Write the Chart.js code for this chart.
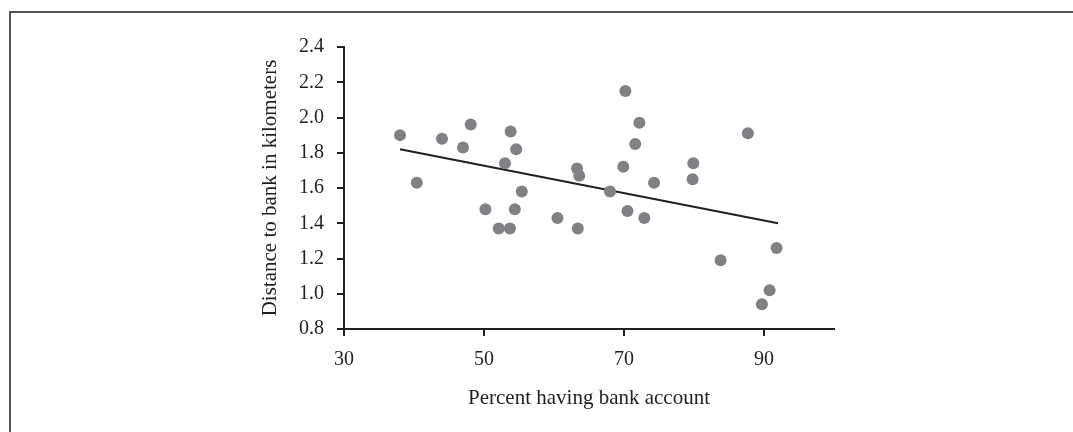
<!DOCTYPE html>
<html>
<head>
<meta charset="utf-8">
<script src="https://cdn.jsdelivr.net/npm/chart.js@4"></script>
<style>
  html, body { margin: 0; padding: 0; background: #fff; }
  #wrap { position: relative; width: 1073px; height: 432px; overflow: hidden; }
  #frame { position: absolute; left: 9px; top: 11px; width: 1100px; height: 460px;
           border-left: 2px solid #555; border-top: 2px solid #555; }
  canvas { position: absolute; left: 0; top: 0; }
</style>
</head>
<body>
<div id="wrap">
  <div id="frame"></div>
  <canvas id="chart" width="1073" height="432"></canvas>
</div>
<script>
// percent having bank account vs distance to bank (km)
var pctAccount = [38.0, 40.4, 44.0, 47.0, 48.1, 50.2, 52.1, 53.0, 53.7, 53.8, 54.4, 54.6, 55.4,
  60.5, 63.3, 63.4, 63.6, 68.0, 69.9, 70.2, 70.5, 71.6, 72.2, 72.9, 74.3, 79.9, 79.8, 83.8,
  87.7, 89.7, 90.8, 91.8];
var distanceKm = [1.90, 1.63, 1.88, 1.83, 1.96, 1.48, 1.37, 1.74, 1.37, 1.92, 1.48, 1.82, 1.58,
  1.43, 1.71, 1.37, 1.67, 1.58, 1.72, 2.15, 1.47, 1.85, 1.97, 1.43, 1.63, 1.74, 1.65, 1.19,
  1.91, 0.94, 1.02, 1.26];

// fitted trend line end points
var trendX = [38, 92];
var trendY = [1.82, 1.40];

var xTicks = [30, 50, 70, 90];

var serif = "'Liberation Serif', 'DejaVu Serif', serif";
var ink = "#231f20";

var points = pctAccount.map(function (x, i) {
  return { x: x, y: distanceKm[i] };
});
var trend = trendX.map(function (x, i) {
  return { x: x, y: trendY[i] };
});

var ctx = document.getElementById("chart");
var myChart = new Chart(ctx, {
  type: "scatter",
  data: {
    datasets: [
      {
        label: "Countries",
        data: points,
        backgroundColor: "#808185",
        borderWidth: 0,
        pointRadius: 6,
        pointHoverRadius: 6,
      },
      {
        type: "line",
        label: "Trend",
        data: trend,
        borderColor: ink,
        borderWidth: 2,
        pointRadius: 0,
        fill: false,
      },
    ],
  },
  options: {
    responsive: false,
    animation: false,
    layout: {
      padding: { left: 250, right: 239, top: 47, bottom: 18 },
    },
    plugins: {
      legend: { display: false },
      tooltip: { enabled: false },
    },
    scales: {
      x: {
        type: "linear",
        min: 30,
        max: 100,
        afterBuildTicks: function (axis) {
          axis.ticks = xTicks.map(function (v) {
            return { value: v };
          });
        },
        afterFit: function (axis) {
          axis.height = 85;
        },
        border: { display: true, color: ink, width: 2 },
        grid: { drawOnChartArea: false, drawTicks: true, tickLength: 7, color: ink, lineWidth: 2 },
        ticks: {
          color: ink,
          padding: 12,
          maxRotation: 0,
          font: { family: serif, size: 20 },
        },
        title: {
          display: true,
          text: "Percent having bank account",
          color: ink,
          padding: { top: 0, bottom: 3 },
          font: { family: serif, size: 21 },
        },
      },
      y: {
        min: 0.8,
        max: 2.4,
        afterFit: function (axis) {
          axis.width = 94;
        },
        border: { display: true, color: ink, width: 2 },
        grid: { drawOnChartArea: false, drawTicks: true, tickLength: 7, color: ink, lineWidth: 2 },
        ticks: {
          stepSize: 0.2,
          color: ink,
          padding: 13,
          font: { family: serif, size: 20 },
          callback: function (v) {
            return Number(v).toFixed(1);
          },
        },
        title: {
          display: true,
          text: "Distance to bank in kilometers",
          color: ink,
          padding: { top: 8, bottom: 0 },
          font: { family: serif, size: 21 },
        },
      },
    },
  },
});
</script>
</body>
</html>
